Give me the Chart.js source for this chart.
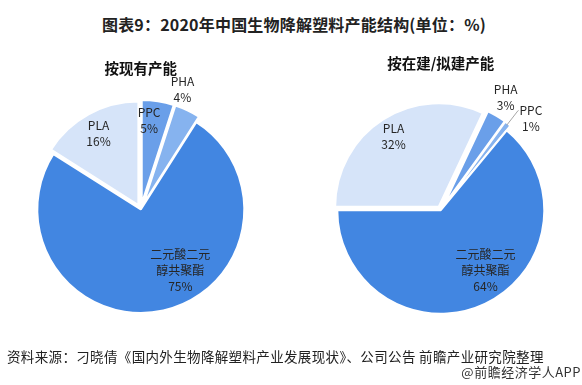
<!DOCTYPE html>
<html>
<head>
<meta charset="utf-8">
<script src="https://cdn.jsdelivr.net/npm/chart.js@4.4.0/dist/chart.umd.min.js"></script>
<style>
  html, body { margin: 0; padding: 0; background: #fff; }
  #wrap { position: relative; width: 582px; height: 385px; overflow: hidden; font-family: "Noto Sans CJK SC", sans-serif; }
  canvas { position: absolute; top: 0; }
  #title { position: absolute; left: 6px; width: 576px; top: 13px; line-height: 22px; text-align: center; font-size: 16px; font-weight: bold; color: #222; letter-spacing: 0.2px; }
  #source { position: absolute; left: 7px; top: 346px; line-height: 20px; font-size: 13.5px; letter-spacing: 0.35px; color: #222; white-space: nowrap; }
  #brand { position: absolute; right: 1px; top: 362px; line-height: 20px; font-size: 13px; letter-spacing: 0.5px; color: #333; white-space: nowrap; }
</style>
</head>
<body>
<div id="wrap">
  <div id="title">图表9：2020年中国生物降解塑料产能结构(单位：%)</div>
  <canvas id="leftChart" width="291" height="385" style="left:0"></canvas>
  <canvas id="rightChart" width="291" height="385" style="left:291px"></canvas>
  <div id="source">资料来源：刁晓倩《国内外生物降解塑料产业发展现状》、公司公告 前瞻产业研究院整理</div>
  <div id="brand">@前瞻经济学人APP</div>
</div>
<script>
// Datos: 按现有产能
const leftTitle = '按现有产能';
const leftCategories = ['PPC', 'PHA', '二元酸二元醇共聚酯', 'PLA'];
const leftValues = [5, 4, 75, 16];

// Datos: 按在建/拟建产能
const rightTitle = '按在建/拟建产能';
const rightCategories = ['PLA', 'PHA', 'PPC', '二元酸二元醇共聚酯'];
const rightValues = [32, 3, 1, 64];

const FONT = '"Noto Sans CJK SC", sans-serif';

// separa las rebanadas hacia afuera (en px), como en Excel
const explodePlugin = {
    id: 'explode',
    afterDatasetUpdate(chart, args) {
        const ds = chart.data.datasets[args.index];
        const d = ds.explode || [];
        args.meta.data.forEach((arc, i) => {
            const k = d[i] || 0;
            const mid = (arc.startAngle + arc.endAngle) / 2;
            arc.x += Math.cos(mid) * k;
            arc.y += Math.sin(mid) * k;
        });
    }
};

// etiquetas: nombre + porcentaje
const labelPlugin = {
    id: 'sliceLabels',
    afterDatasetsDraw(chart) {
        const ctx = chart.ctx;
        const ds = chart.data.datasets[0];
        const meta = chart.getDatasetMeta(0);
        const area = chart.chartArea;
        const cx = (area.left + area.right) / 2;
        const cy = (area.top + area.bottom) / 2;
        ctx.save();
        ctx.font = '12px ' + FONT;
        ctx.fillStyle = '#262626';
        ctx.textAlign = 'center';
        ctx.textBaseline = 'middle';
        const lh = 16;
        meta.data.forEach((arc, i) => {
            const [shift, frac] = ds.labelPlace[i];
            const mid = (arc.startAngle + arc.endAngle) / 2;
            const a = mid + shift * Math.PI / 180;
            const r = arc.outerRadius * frac;
            const x = cx + Math.cos(a) * r;
            const y = cy + Math.sin(a) * r;
            const name = chart.data.labels[i];
            const lines = name.length > 5 ? [name.slice(0, 5), name.slice(5)] : [name];
            lines.push(ds.data[i] + '%');
            lines.forEach((t, j) => ctx.fillText(t, x, y + (j - (lines.length - 1) / 2) * lh));

            // línea guía para la rebanada pequeña
            if (ds.leader && ds.leader[i]) {
                const w = Math.max(...lines.map(t => ctx.measureText(t).width));
                const ex = arc.x + Math.cos(mid) * arc.outerRadius * 1.16;
                const ey = arc.y + Math.sin(mid) * arc.outerRadius * 1.16;
                ctx.beginPath();
                ctx.strokeStyle = '#a6a6a6';
                ctx.lineWidth = 1;
                ctx.moveTo(arc.x + Math.cos(mid) * arc.outerRadius * 0.98, arc.y + Math.sin(mid) * arc.outerRadius * 0.98);
                ctx.lineTo(ex, ey);
                ctx.lineTo(x - w / 2 - 1, ey);
                ctx.stroke();
            }
        });
        ctx.restore();
    }
};

function makePie(canvasId, title, categories, values, cfg) {
    return new Chart(document.getElementById(canvasId), {
        type: 'pie',
        data: {
            labels: categories,
            datasets: [{
                data: values,
                backgroundColor: cfg.colors,
                borderColor: '#ffffff',
                borderWidth: 2,
                explode: cfg.explode,
                labelPlace: cfg.labelPlace,
                leader: cfg.leader
            }]
        },
        options: {
            responsive: false,
            animation: false,
            radius: 103.5,
            rotation: cfg.rotation,
            layout: { padding: cfg.padding },
            plugins: {
                legend: { display: false },
                tooltip: { enabled: false },
                title: {
                    display: true,
                    text: title,
                    color: '#111',
                    font: { family: FONT, size: 14.5, weight: 'bold' },
                    padding: cfg.titlePad
                }
            }
        },
        plugins: [explodePlugin, labelPlugin]
    });
}

makePie('leftChart', leftTitle, leftCategories, leftValues, {
    colors: ['#6A9FE9', '#86B3EF', '#4286E1', '#D6E4F9'],
    explode: [6, 6, 0, 5],
    labelPlace: [[-3.7, 0.867], [-6, 1.224], [-20.3, 0.703], [-0.2, 0.842]],
    rotation: 0,
    padding: { left: 0, right: 9.4, top: 0, bottom: 52.7 },
    titlePad: { top: 59.3, bottom: 10 }
});

makePie('rightChart', rightTitle, rightCategories, rightValues, {
    colors: ['#D6E4F9', '#6A9FE9', '#86B3EF', '#4286E1'],
    explode: [4, 6, 6, 0],
    labelPlace: [[-0.2, 0.848], [-0.8, 1.261], [6.8, 1.24], [-11.3, 0.726]],
    leader: [false, false, true, false],
    rotation: 270,
    padding: { left: 8.6, right: 0, top: 0, bottom: 46.3 },
    titlePad: { top: 54.3, bottom: 10 }
});
</script>
</body>
</html>
